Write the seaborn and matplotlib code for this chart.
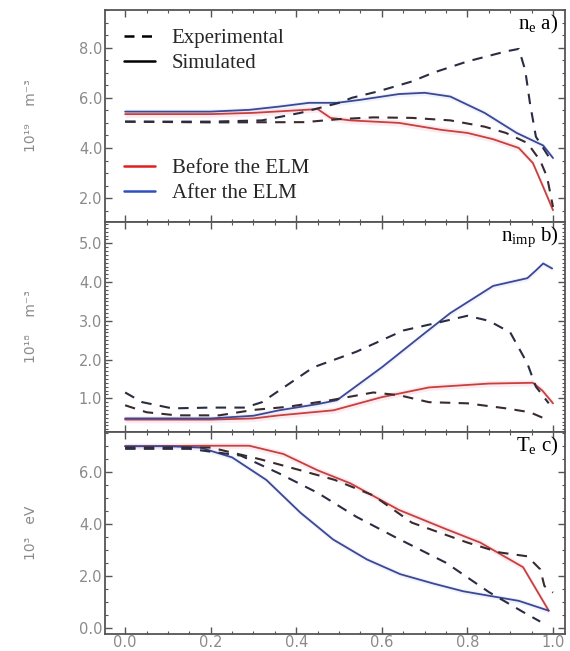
import numpy as np
import pandas as pd
import matplotlib
matplotlib.use("Agg")
import matplotlib.pyplot as plt
from matplotlib.ticker import MultipleLocator, FormatStrFormatter
from matplotlib.lines import Line2D
import seaborn as sns

sns.set_theme(style="white")
plt.rcParams['font.family'] = ['DejaVu Sans']
plt.rcParams['mathtext.fontset'] = 'custom'
plt.rcParams['mathtext.rm'] = 'Liberation Serif'
plt.rcParams['mathtext.it'] = 'Liberation Serif:italic'

# ---------------- data ----------------
# panel a) n_e  [10^19 m^-3]
a_sim_before_x = [0.0, 0.20, 0.30, 0.40, 0.45, 0.48, 0.526, 0.64, 0.74, 0.80, 0.86, 0.92, 0.953, 0.977, 1.0]
a_sim_before_y = [5.35, 5.35, 5.40, 5.50, 5.55, 5.20, 5.10, 5.00, 4.72, 4.60, 4.35, 4.00, 3.40, 2.45, 1.52]
a_sim_after_x = [0.0, 0.20, 0.29, 0.36, 0.43, 0.495, 0.55, 0.64, 0.70, 0.76, 0.84, 0.915, 0.977, 1.0]
a_sim_after_y = [5.45, 5.45, 5.52, 5.65, 5.80, 5.80, 5.92, 6.15, 6.20, 6.05, 5.40, 4.60, 4.10, 3.60]
a_exp_before_x = [0.0, 0.20, 0.42, 0.50, 0.58, 0.67, 0.76, 0.84, 0.89, 0.94, 0.97, 0.986, 1.0]
a_exp_before_y = [5.05, 5.02, 5.03, 5.15, 5.22, 5.20, 5.10, 4.85, 4.60, 4.20, 3.50, 2.85, 1.65]
a_exp_after_x = [0.0, 0.20, 0.32, 0.41, 0.50, 0.53, 0.59, 0.67, 0.72, 0.80, 0.89, 0.92, 0.935, 0.946, 0.96, 0.99]
a_exp_after_y = [5.05, 5.05, 5.10, 5.40, 5.80, 6.00, 6.25, 6.65, 7.00, 7.45, 7.85, 7.95, 7.10, 5.80, 4.45, 3.65]

# panel b) n_imp  [10^18 m^-3]
b_sim_before_x = [0.0, 0.20, 0.30, 0.36, 0.487, 0.60, 0.71, 0.85, 0.953, 0.975, 1.0]
b_sim_before_y = [0.45, 0.45, 0.48, 0.56, 0.69, 1.03, 1.28, 1.38, 1.40, 1.20, 0.87]
b_sim_after_x = [0.0, 0.20, 0.30, 0.36, 0.45, 0.495, 0.60, 0.70, 0.76, 0.86, 0.94, 0.96, 0.977, 0.998]
b_sim_after_y = [0.48, 0.48, 0.55, 0.69, 0.85, 0.95, 1.80, 2.68, 3.20, 3.90, 4.10, 4.30, 4.48, 4.35]
b_exp_before_x = [0.0, 0.05, 0.12, 0.22, 0.30, 0.38, 0.48, 0.58, 0.64, 0.71, 0.80, 0.89, 0.946, 0.99]
b_exp_before_y = [0.82, 0.64, 0.56, 0.56, 0.70, 0.78, 0.95, 1.15, 1.08, 0.90, 0.87, 0.74, 0.64, 0.43]
b_exp_after_x = [0.0, 0.04, 0.11, 0.20, 0.28, 0.32, 0.36, 0.40, 0.44, 0.54, 0.65, 0.73, 0.80, 0.85, 0.90, 0.94, 0.96, 0.99]
b_exp_after_y = [1.15, 0.90, 0.74, 0.76, 0.76, 0.90, 1.20, 1.50, 1.80, 2.20, 2.75, 2.95, 3.13, 3.00, 2.70, 1.90, 1.30, 0.87]

# panel c) T_e  [10^3 eV]
c_sim_before_x = [0.0, 0.20, 0.29, 0.37, 0.45, 0.526, 0.64, 0.75, 0.83, 0.93, 0.99]
c_sim_before_y = [7.0, 7.02, 7.02, 6.70, 6.07, 5.57, 4.54, 3.80, 3.28, 2.33, 0.65]
c_sim_after_x = [0.0, 0.10, 0.175, 0.25, 0.33, 0.41, 0.486, 0.565, 0.643, 0.72, 0.79, 0.86, 0.92, 0.99]
c_sim_after_y = [7.0, 7.0, 6.95, 6.57, 5.70, 4.43, 3.40, 2.63, 2.06, 1.70, 1.40, 1.20, 1.03, 0.65]
c_exp_before_x = [0.0, 0.20, 0.315, 0.41, 0.49, 0.58, 0.67, 0.80, 0.875, 0.94, 0.97, 0.98, 1.0]
c_exp_before_y = [6.95, 6.95, 6.50, 6.07, 5.70, 5.10, 4.05, 3.28, 2.90, 2.75, 2.25, 1.60, 1.35]
c_exp_after_x = [0.0, 0.15, 0.27, 0.36, 0.45, 0.54, 0.63, 0.75, 0.85, 0.93, 0.97]
c_exp_after_y = [6.9, 6.9, 6.64, 5.95, 5.20, 4.28, 3.50, 2.50, 1.37, 0.60, 0.23]

x_ticks = [0.0, 0.2, 0.4, 0.6, 0.8, 1.0]
x_ticklabels = ["0.0", "0.2", "0.4", "0.6", "0.8", "1.0"]
y_units = ["10¹⁹    m⁻³", "10¹⁸    m⁻³", "10³   eV"]
panel_tags = [r"n$_{\mathrm{e}}$ a)", r"n$_{\mathrm{imp}}$ b)", r"T$_{\mathrm{e}}$ c)"]
legend_style = ["Experimental", "Simulated"]
legend_time = ["Before the ELM", "After the ELM"]

# ---------------- style ----------------
RED = "#c8403c"
BLUE = "#3a4896"
DASH_B = "#3a2a2e"
DASH_A = "#2a2c42"
GRAY = "#8a8a8a"
SERIF = ["Liberation Serif", "DejaVu Serif"]

fig = plt.figure(figsize=(5.70, 6.51), dpi=100)
L, R = 105 / 570, 565 / 570
bounds = [(10, 222), (222, 432), (432, 634)]
axes = []
for top, bot in bounds:
    ax = fig.add_axes([L, 1 - bot / 651, R - L, (bot - top) / 651])
    axes.append(ax)

panels = [
    (a_exp_before_x, a_exp_before_y, a_exp_after_x, a_exp_after_y,
     a_sim_before_x, a_sim_before_y, a_sim_after_x, a_sim_after_y),
    (b_exp_before_x, b_exp_before_y, b_exp_after_x, b_exp_after_y,
     b_sim_before_x, b_sim_before_y, b_sim_after_x, b_sim_after_y),
    (c_exp_before_x, c_exp_before_y, c_exp_after_x, c_exp_after_y,
     c_sim_before_x, c_sim_before_y, c_sim_after_x, c_sim_after_y),
]
ylims = [(1.05, 9.5), (0.13, 5.55), (-0.25, 7.55)]
ymajor = [2.0, 1.0, 2.0]
yminor = [0.5, 0.1, 0.5]

for i, (ax, d) in enumerate(zip(axes, panels)):
    ebx, eby, eax, eay, sbx, sby, sax, say = d
    span = (ylims[i][1] - ylims[i][0]) / 8
    ax.fill_between(sbx, np.array(sby) - 0.12 * span, np.array(sby) + 0.12 * span,
                    color="#f4c8d8", alpha=0.35, lw=0)
    ax.fill_between(sax, np.array(say) - 0.10 * span, np.array(say) + 0.10 * span,
                    color="#d8dcf4", alpha=0.35, lw=0)
    sns.lineplot(x=sbx, y=sby, ax=ax, color=RED, lw=1.3, sort=False, estimator=None)
    sns.lineplot(x=sax, y=say, ax=ax, color=BLUE, lw=1.3, sort=False, estimator=None)
    sns.lineplot(x=ebx, y=eby, ax=ax, color=DASH_B, lw=1.5, sort=False, estimator=None,
                 dashes=False).lines[-1].set_dashes([5, 4])
    sns.lineplot(x=eax, y=eay, ax=ax, color=DASH_A, lw=1.5, sort=False, estimator=None,
                 dashes=False).lines[-1].set_dashes([5, 4])

    ax.set_xlim(-0.047, 1.028)
    ax.set_ylim(*ylims[i])
    ax.yaxis.set_major_locator(MultipleLocator(ymajor[i]))
    ax.yaxis.set_minor_locator(MultipleLocator(yminor[i]))
    ax.yaxis.set_major_formatter(FormatStrFormatter("%.1f"))
    ax.set_xticks(x_ticks)
    ax.xaxis.set_minor_locator(MultipleLocator(0.05))
    ax.tick_params(which="both", direction="in", top=True, right=True,
                   left=True, bottom=True, color="#555555")
    ax.tick_params(which="major", length=5, width=1.0, labelsize=10.5,
                   labelcolor=GRAY, pad=2)
    ax.tick_params(axis="x", which="major", pad=1)
    ax.tick_params(which="minor", length=2.5, width=0.8)
    if i < 2:
        ax.set_xticklabels([])
    else:
        ax.set_xticklabels(x_ticklabels)
    for s in ax.spines.values():
        s.set_color("#555555")
        s.set_linewidth(1.3)
    ax.set_xlabel("")
    ax.set_ylabel(y_units[i], color=GRAY, fontsize=10)
    ax.yaxis.set_label_coords(-0.145, 0.5)
    ax.text(0.985, 0.93, panel_tags[i], transform=ax.transAxes, ha="right", va="center",
            fontsize=15, family=SERIF, color="black")

# legends in the top panel
h1 = [Line2D([], [], color="black", lw=1.8, dashes=[4, 3]),
      Line2D([], [], color="black", lw=1.8)]
leg1 = axes[0].legend(h1, legend_style, loc="upper left", bbox_to_anchor=(0.0, 1.0),
                      frameon=False, handlelength=1.5, handletextpad=0.8,
                      labelspacing=0.25, prop={"family": SERIF, "size": 15})
axes[0].add_artist(leg1)
h2 = [Line2D([], [], color="#e02020", lw=1.8),
      Line2D([], [], color="#3050c0", lw=1.8)]
axes[0].legend(h2, legend_time, loc="lower left", bbox_to_anchor=(0.0, 0.0),
               frameon=False, handlelength=1.5, handletextpad=0.8,
               labelspacing=0.25, prop={"family": SERIF, "size": 15})

fig.savefig("out.png", dpi=100)
